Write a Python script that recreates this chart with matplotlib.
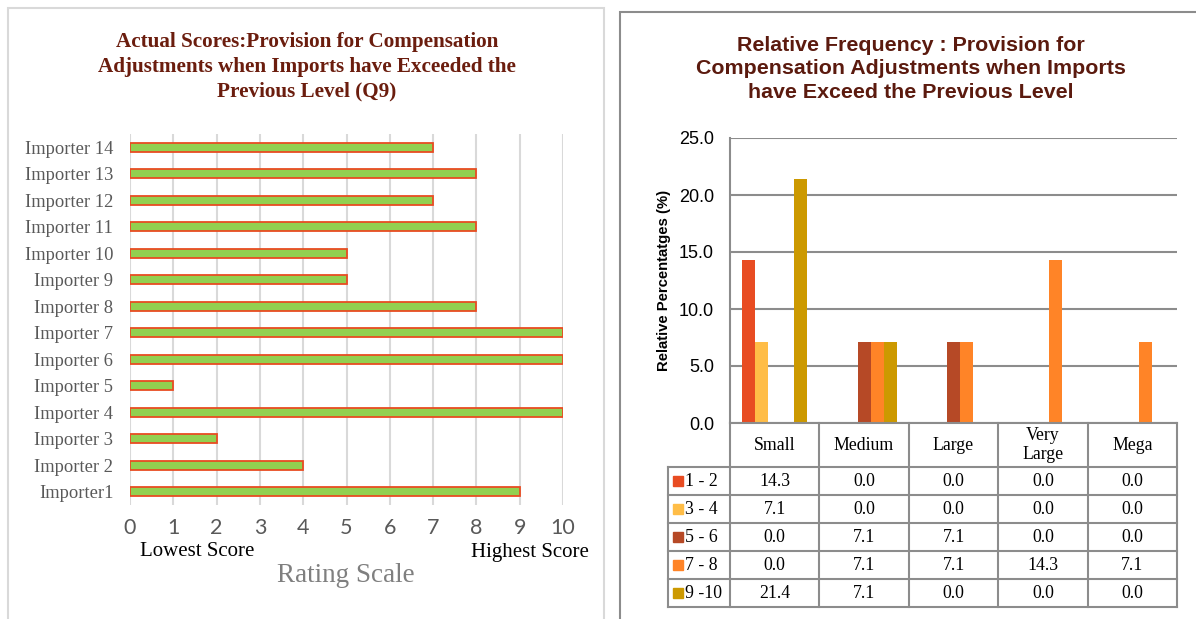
"""Q9: actual scores + relative frequency table"""
import matplotlib
matplotlib.use("Agg")
import matplotlib.pyplot as plt
from matplotlib.patches import Rectangle
import numpy as np

# ---- data ----
importers = ["Importer1", "Importer 2", "Importer 3", "Importer 4", "Importer 5",
             "Importer 6", "Importer 7", "Importer 8", "Importer 9", "Importer 10",
             "Importer 11", "Importer 12", "Importer 13", "Importer 14"]
scores = [9, 4, 2, 10, 1, 10, 10, 8, 5, 5, 8, 7, 8, 7]

sizes = ["Small", "Medium", "Large", "Very\nLarge", "Mega"]
ranges = ["1 - 2", "3 - 4", "5 - 6", "7 - 8", "9 -10"]
freq_12 = [14.3, 0.0, 0.0, 0.0, 0.0]
freq_34 = [7.1, 0.0, 0.0, 0.0, 0.0]
freq_56 = [0.0, 7.1, 7.1, 0.0, 0.0]
freq_78 = [0.0, 7.1, 7.1, 14.3, 7.1]
freq_910 = [21.4, 7.1, 0.0, 0.0, 0.0]
freqs = [freq_12, freq_34, freq_56, freq_78, freq_910]
range_colors = ["#E84C22", "#FFBD47", "#B64926", "#FF8427", "#CC9900"]

W, H = 1196, 619
fig = plt.figure(figsize=(W / 100, H / 100), dpi=100)


def box(x0, y0, x1, y1):
    # pixel box (top-left origin) -> figure fraction rect
    return [x0 / W, 1 - y1 / H, (x1 - x0) / W, (y1 - y0) / H]


def fx(x, y):
    return x / W, 1 - y / H


# panel frames
fig.patches.append(Rectangle(fx(8, 640), 596 / W, 632 / H, transform=fig.transFigure,
                             fill=False, edgecolor="#D9D9D9", lw=1.5))
fig.patches.append(Rectangle(fx(620, 640), 600 / W, 628 / H, transform=fig.transFigure,
                             fill=False, edgecolor="#8C8C8C", lw=1.5))

# ---- left: actual scores ----
ax = fig.add_axes(box(130, 134, 563, 505))
y = np.arange(len(importers))
ax.barh(y, scores, height=0.33, color="#92D050", edgecolor="#E84C22", lw=1.3, zorder=3)
ax.set_xlim(0, 10)
ax.set_ylim(-0.5, len(importers) - 0.5)
ax.set_xticks(range(11))
ax.set_yticks(y)
ax.set_yticklabels(importers, family="Liberation Serif", fontsize=13.3, color="#595959")
for t in ax.get_xticklabels():
    t.set_family("Lato")
    t.set_fontsize(15.5)
    t.set_color("#595959")
ax.tick_params(length=0)
ax.tick_params(axis="x", pad=9)
ax.tick_params(axis="y", pad=12)
ax.grid(axis="x", color="#D9D9D9", lw=1.5, zorder=0)
for s in ax.spines.values():
    s.set_visible(False)

fig.text(*fx(307, 67), "Actual Scores:Provision for Compensation\n"
         "Adjustments when Imports have Exceeded the\nPrevious Level (Q9)",
         ha="center", va="center", family="Liberation Serif", weight="bold",
         fontsize=15.2, color="#6B1D0E", linespacing=1.33)
fig.text(*fx(197, 552), "Lowest Score", ha="center", va="center",
         family="Liberation Serif", fontsize=15, color="black")
fig.text(*fx(530, 552), "Highest Score", ha="center", va="center",
         family="Liberation Serif", fontsize=15, color="black")
fig.text(*fx(346, 575), "Rating Scale", ha="center", va="center",
         family="Liberation Serif", fontsize=19.5, color="#7F7F7F")

# ---- right: relative frequency ----
ax2 = fig.add_axes(box(730, 138, 1177, 423))
x = np.arange(len(sizes))
bw = 0.146
for i, (vals, c) in enumerate(zip(freqs, range_colors)):
    ax2.bar(x + (i - 2) * bw, vals, width=bw, color=c, zorder=3)
ax2.set_xlim(-0.5, len(sizes) - 0.5)
ax2.set_ylim(0, 25)
ax2.set_yticks(np.arange(0, 26, 5))
ax2.set_yticklabels([f"{v:.1f}" for v in np.arange(0, 26, 5)],
                    family="Liberation Sans", fontsize=13)
ax2.set_xticks([])
ax2.tick_params(length=0, pad=11.5)
ax2.grid(axis="y", color="#8C8C8C", lw=1.5, zorder=0)
for k in ["top", "right", "bottom"]:
    ax2.spines[k].set_visible(False)
ax2.spines["left"].set_color("#8C8C8C")
ax2.spines["left"].set_linewidth(1.5)
ax2.set_ylabel("Relative Percentatges (%)", family="Liberation Sans",
               weight="bold", fontsize=10.7, labelpad=6)

fig.text(*fx(911, 69), "Relative Frequency : Provision for\n"
         "Compensation Adjustments when Imports\nhave Exceed the Previous Level",
         ha="center", va="center", family="Liberation Sans", weight="bold",
         fontsize=15.4, color="#5B1A0E", linespacing=1.31)

# data table under the bars
hdr = 44 / 28
unit = 447 / 5
lab = 62 / unit
tb = fig.add_axes(box(668, 423, 1177, 607))
tb.set_xlim(-0.5 - lab, len(sizes) - 0.5)
tb.set_ylim(hdr + len(ranges), 0)
tb.axis("off")
lc = "#8C8C8C"
tb.plot([-0.5, len(sizes) - 0.5], [0, 0], color=lc, lw=1.5, clip_on=False)
for r in range(len(ranges) + 1):
    tb.plot([-0.5 - lab, len(sizes) - 0.5], [hdr + r, hdr + r], color=lc, lw=1.5, clip_on=False)
tb.plot([-0.5 - lab, -0.5 - lab], [hdr, hdr + len(ranges)], color=lc, lw=1.5, clip_on=False)
for j in range(len(sizes) + 1):
    tb.plot([j - 0.5, j - 0.5], [0, hdr + len(ranges)], color=lc, lw=1.5, clip_on=False)
for j, s in enumerate(sizes):
    tb.text(j, hdr / 2, s, ha="center", va="center", family="Liberation Serif",
            fontsize=12.8, linespacing=1.15)
for i, (rg, vals, c) in enumerate(zip(ranges, freqs, range_colors)):
    yc = hdr + i + 0.5
    tb.plot([-0.5 - lab + 10 / unit], [yc], marker="s", ms=7, color=c, clip_on=False)
    tb.text(-0.5 - lab + 17 / unit, yc, rg, ha="left", va="center",
            family="Liberation Serif", fontsize=12.8)
    for j, v in enumerate(vals):
        tb.text(j, yc, f"{v:.1f}", ha="center", va="center",
                family="Liberation Serif", fontsize=12.8)

fig.savefig("out.png", dpi=100)
